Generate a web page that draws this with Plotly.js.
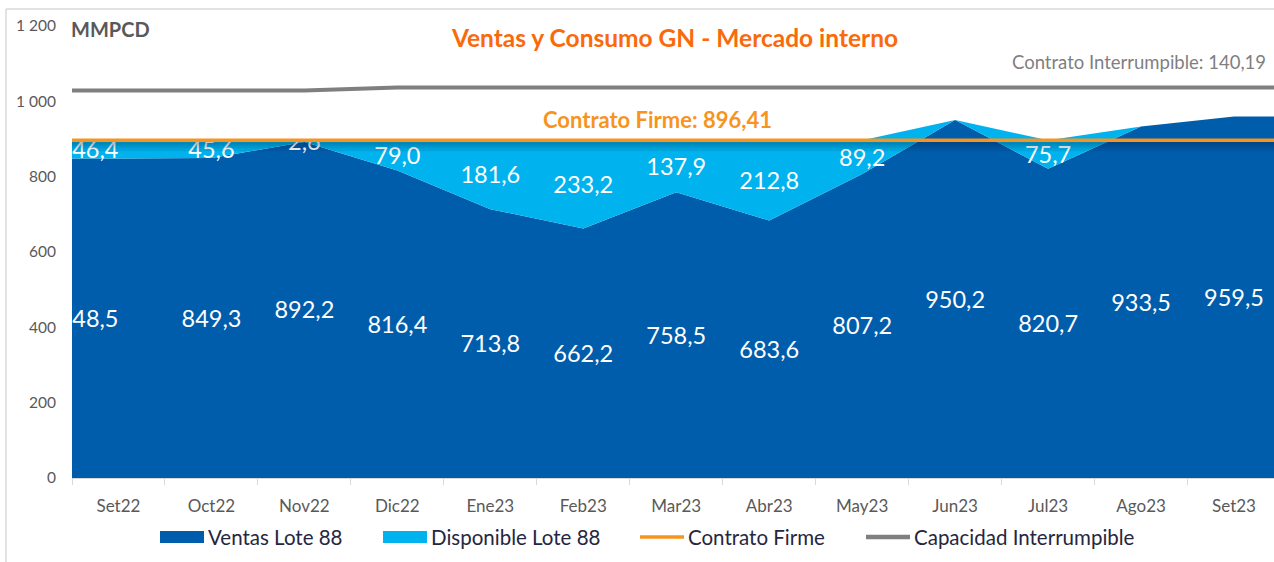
<!DOCTYPE html>
<html>
<head>
<meta charset="utf-8">
<script src="https://cdn.plot.ly/plotly-3.0.1.min.js"></script>
<style>html,body{margin:0;padding:0;background:#fff;}#chart{width:1274px;height:562px;}</style>
</head>
<body>
<div id="chart"></div>
<script>
// ---- data ----
const months = ['Set22','Oct22','Nov22','Dic22','Ene23','Feb23','Mar23','Abr23','May23','Jun23','Jul23','Ago23','Set23'];
const ventas = [848.5, 849.3, 892.2, 816.4, 713.8, 662.2, 758.5, 683.6, 807.2, 950.2, 820.7, 933.5, 959.5];
const disponible = [46.4, 45.6, 2.6, 79.0, 181.6, 233.2, 137.9, 212.8, 89.2, 0, 75.7, 0, 0];
const capacidad = [1029, 1029, 1029, 1036.6, 1036.6, 1036.6, 1036.6, 1036.6, 1036.6, 1036.6, 1036.6, 1036.6, 1036.6];
const contratoFirme = 896.41;
const contratoInterrumpible = 140.19;
const yTicks = [0, 200, 400, 600, 800, 1000, 1200];

// ---- helpers ----
const fmt1 = v => v.toFixed(1).replace('.', ',');
const fmt2 = v => v.toFixed(2).replace('.', ',');
const idx = months.map((m, i) => i);
// Excel-style area: extend first/last value flat to the plot edges
const ext = arr => [arr[0]].concat(arr, [arr[arr.length - 1]]);
const xExt = [-0.5].concat(idx, [idx.length - 0.5]);
const bounds = idx.concat([idx.length]).map(i => i - 0.5);
const LABEL_DY = -7; // small downward nudge so text centres sit like Excel's

const C_DARK = '#005DAB', C_LIGHT = '#00B3EE', C_ORANGE = '#F7941D', C_GRAY = '#7F7F7F';
const FONT = 'Lato, "Open Sans", sans-serif';

// pixel -> paper conversion (plot area: x 72..1274, y 26..478)
const L = 72, R = 1274, T = 26, B = 478;
const px = X => (X - L) / (R - L);
const py = Y => (B - Y) / (B - T);

const traces = [
  {x: xExt, y: ext(ventas), type: 'scatter', mode: 'none', stackgroup: 'a', fillcolor: C_DARK, name: 'Ventas Lote 88', hoverinfo: 'skip'},
  {x: xExt, y: ext(disponible), type: 'scatter', mode: 'none', stackgroup: 'a', fillcolor: C_LIGHT, name: 'Disponible Lote 88', hoverinfo: 'skip'},
  {x: idx, y: ventas.map(v => v / 2 + LABEL_DY), type: 'scatter', mode: 'text',
   text: ventas.map(fmt1), textposition: idx.map(i => i === 0 ? 'middle left' : 'middle center'),
   textfont: {family: FONT, size: 23.5, color: '#FFFFFF'}, hoverinfo: 'skip', showlegend: false},
  {x: idx, y: ventas.map((v, i) => v + disponible[i] / 2 + LABEL_DY), type: 'scatter', mode: 'text',
   text: disponible.map(d => d > 0 ? fmt1(d) : ''), textposition: idx.map(i => i === 0 ? 'middle left' : 'middle center'),
   textfont: {family: FONT, size: 23.5, color: '#FFFFFF'}, hoverinfo: 'skip', showlegend: false},
  {x: [xExt[0], xExt[xExt.length - 1]], y: [contratoFirme, contratoFirme], type: 'scatter', mode: 'lines',
   line: {color: C_ORANGE, width: 3.5}, name: 'Contrato Firme', hoverinfo: 'skip'},
  {x: xExt, y: ext(capacidad), type: 'scatter', mode: 'lines',
   line: {color: C_GRAY, width: 4}, name: 'Capacidad Interrumpible', hoverinfo: 'skip'}
];

// shadow under the orange line
const shapes = [];
[3.5, 5.5, 8, 11].forEach(h => shapes.push({
  type: 'rect', xref: 'paper', yref: 'y', x0: 0, x1: 1, ysizemode: 'pixel', yanchor: contratoFirme,
  y0: -1.8, y1: -h, fillcolor: 'rgba(0,20,50,0.09)', line: {width: 0}, layer: 'above'
}));
// chart frame
shapes.push({type: 'line', xref: 'paper', yref: 'paper', x0: px(6), x1: px(1274), y0: py(9), y1: py(9), line: {color: '#D9D9D9', width: 1.5}});
shapes.push({type: 'line', xref: 'paper', yref: 'paper', x0: px(6), x1: px(6), y0: py(9), y1: py(562), line: {color: '#D9D9D9', width: 1.5}});

// manual legend (Excel-like spacing)
const legendItems = [
  {name: traces[0].name, kind: 'rect', color: C_DARK, x: 160},
  {name: traces[1].name, kind: 'rect', color: C_LIGHT, x: 383},
  {name: traces[4].name, kind: 'line', color: C_ORANGE, x: 640},
  {name: traces[5].name, kind: 'line', color: C_GRAY, x: 866}
];
const LY = 537;
const annotations = [];
legendItems.forEach(it => {
  if (it.kind === 'rect') {
    shapes.push({type: 'rect', xref: 'paper', yref: 'paper', x0: px(it.x), x1: px(it.x + 44), y0: py(LY + 6), y1: py(LY - 6),
      fillcolor: it.color, line: {width: 0}});
  } else {
    shapes.push({type: 'line', xref: 'paper', yref: 'paper', x0: px(it.x), x1: px(it.x + 44), y0: py(LY), y1: py(LY),
      line: {color: it.color, width: it.color === C_GRAY ? 4.5 : 3.5}});
  }
  annotations.push({xref: 'paper', yref: 'paper', x: px(it.x + 46), y: py(LY), xanchor: 'left', yanchor: 'middle',
    text: it.name, showarrow: false, font: {family: FONT, size: 20.5, color: '#262641'}});
});

annotations.push({xref: 'paper', yref: 'paper', x: px(72), y: py(29), xanchor: 'left', yanchor: 'middle', xshift: -3,
  text: '<b>MMPCD</b>', showarrow: false, font: {family: FONT, size: 20, color: '#595959'}});
annotations.push({xref: 'paper', yref: 'paper', x: px(1268), y: py(62), xanchor: 'right', yanchor: 'middle',
  text: 'Contrato Interrumpible: ' + fmt2(contratoInterrumpible), showarrow: false, font: {family: FONT, size: 18.5, color: '#7F7F7F'}});
annotations.push({xref: 'paper', yref: 'paper', x: px(657), y: py(119), xanchor: 'center', yanchor: 'middle',
  text: '<b>Contrato Firme: ' + fmt2(contratoFirme) + '</b>', showarrow: false, font: {family: FONT, size: 22, color: C_ORANGE}});

const layout = {
  width: 1274, height: 562,
  margin: {l: L, r: 0, t: T, b: 562 - B, pad: 0},
  paper_bgcolor: '#FFFFFF', plot_bgcolor: '#FFFFFF',
  separators: ', ',
  showlegend: false,
  font: {family: FONT},
  title: {text: '<b>Ventas y Consumo GN - Mercado interno</b>', x: 675 / 1274, xanchor: 'center', y: 1 - 38 / 562, yanchor: 'middle',
    font: {family: FONT, size: 24.5, color: '#FA6A0A'}},
  xaxis: {
    type: 'linear', range: [-0.5, 12.43], tickvals: idx, ticktext: months, ticks: '',
    showgrid: false, zeroline: false, showline: true, linecolor: '#D9D9D9', linewidth: 1,
    tickfont: {family: FONT, size: 17, color: '#595959'}, ticklabelstandoff: 13,
    minor: {tickvals: bounds, ticks: 'outside', ticklen: 6, tickcolor: '#D9D9D9', tickwidth: 1, showgrid: false},
    fixedrange: true
  },
  yaxis: {
    range: [0, 1200], tickvals: yTicks, separatethousands: true, ticks: '',
    showgrid: false, zeroline: false, showline: false,
    tickfont: {family: FONT, size: 15.5, color: '#595959'}, ticklabelstandoff: 15,
    fixedrange: true
  },
  shapes: shapes,
  annotations: annotations
};

Plotly.newPlot('chart', traces, layout, {displayModeBar: false, staticPlot: true});
</script>
</body>
</html>
